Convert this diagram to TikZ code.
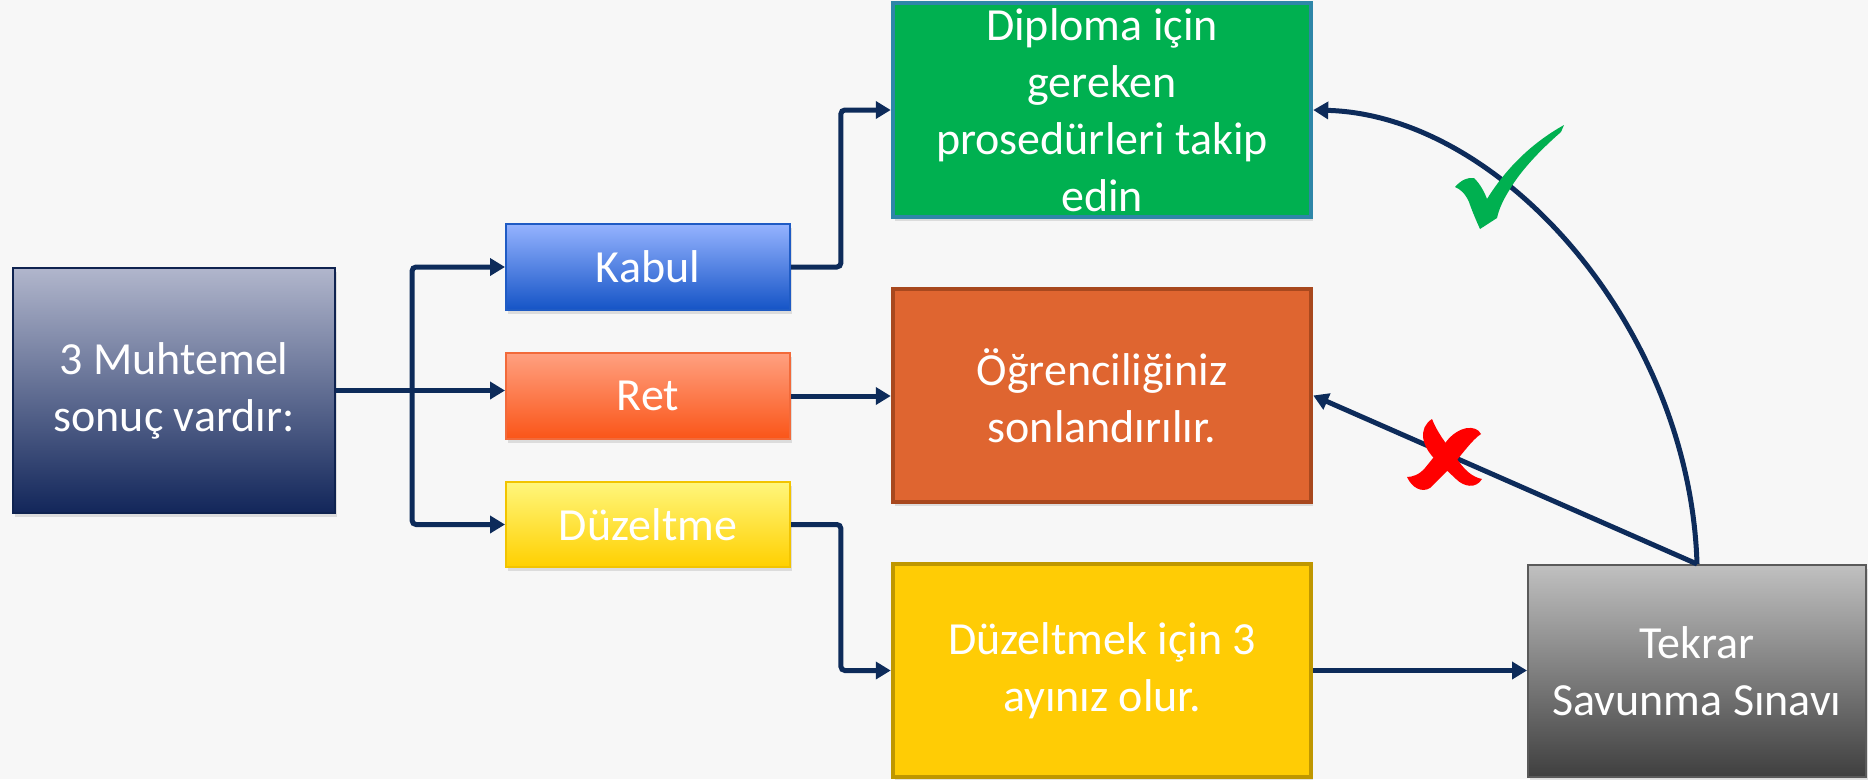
\documentclass[tikz,border=0pt]{standalone}
\usepackage{fontspec}
\setmainfont{Carlito}
\usetikzlibrary{arrows.meta,shadows,calc}
\definecolor{bgcol}{HTML}{F7F7F7}
\definecolor{navy}{HTML}{0D2B5A}
\definecolor{okgreen}{HTML}{00B050}
\definecolor{okborder}{HTML}{2E86A8}
\definecolor{orfill}{HTML}{DF6530}
\definecolor{orborder}{HTML}{A8481E}
\definecolor{yefill}{HTML}{FFCC05}
\definecolor{yeborder}{HTML}{BF9700}
\definecolor{crossred}{HTML}{FF0000}
\definecolor{mainB}{HTML}{0F2350}
\definecolor{mainT}{HTML}{B1B6CC}
\definecolor{mainM}{HTML}{838AA8}
\definecolor{mainD}{HTML}{12265A}
\definecolor{kabB}{HTML}{1F5BC4}
\definecolor{kabT}{HTML}{95B3FF}
\definecolor{kabM}{HTML}{6F90EA}
\definecolor{kabD}{HTML}{1554C6}
\definecolor{retB}{HTML}{F26A3A}
\definecolor{retT}{HTML}{FFA080}
\definecolor{retM}{HTML}{FF8A66}
\definecolor{retD}{HTML}{FA5518}
\definecolor{duzB}{HTML}{F2C400}
\definecolor{duzT}{HTML}{FFF67C}
\definecolor{duzM}{HTML}{FFE655}
\definecolor{duzD}{HTML}{FFD000}
\definecolor{tekB}{HTML}{5A5A5A}
\definecolor{tekT}{HTML}{C0C0C0}
\definecolor{tekM}{HTML}{8E8E8E}
\definecolor{tekD}{HTML}{3F3F3F}
\begin{document}
\begin{tikzpicture}[x=1pt,y=-1pt,
  box/.style={rectangle, inner sep=0pt, align=center, text=white,
    font=\fontsize{46}{57}\selectfont,
    drop shadow={opacity=0.22, shadow xshift=2pt, shadow yshift=-4pt}},
  gradbox/.style={box, draw=#1B, line width=2pt,
    top color=#1T, middle color=#1M, bottom color=#1D},
  flatbox/.style 2 args={box, draw=#1, fill=#2, line width=4.5pt},
  conn/.style={draw=navy, line width=5pt, rounded corners=4pt},
  tip/.tip={Triangle[length=15pt,width=17pt]},
  arr/.style={conn, -tip},
  twoarr/.style={conn, tip-tip}
]
\fill[bgcol] (0,0) rectangle (1868,779);
\useasboundingbox (0,0) rectangle (1868,779);

% left column
\node[gradbox=main, minimum width=322pt, minimum height=245pt] (main) at (174,390.5) {3 Muhtemel\\sonuç vardır:};

% middle column
\node[gradbox=kab, minimum width=284pt, minimum height=86pt] (kabul) at (648,267) {Kabul};
\node[gradbox=ret, minimum width=284pt, minimum height=86pt] (ret) at (648,396) {Ret};
\node[gradbox=duz, minimum width=284pt, minimum height=85pt] (duz) at (648,524.5) {Düzeltme};

% right column
\node[flatbox={okborder}{okgreen}, minimum width=418pt, minimum height=214pt] (diploma) at (1102,110)
  {Diploma için\\gereken\\prosedürleri takip\\edin};
\node[flatbox={orborder}{orfill}, minimum width=418pt, minimum height=213pt] (ogr) at (1102,395.5)
  {Öğrenciliğiniz\\sonlandırılır.};
\node[flatbox={yeborder}{yefill}, minimum width=418pt, minimum height=213pt] (duzmek) at (1102,670.5)
  {Düzeltmek için 3\\ayınız olur.};

% far right
\node[gradbox=tek, minimum width=338pt, minimum height=212pt] (tekrar) at (1697,671) {Tekrar\\Savunma Sınavı};

% connectors from the left box
\coordinate (busx) at ($(main.east)!0.45!(kabul.west)$);
\coordinate (bustop) at (busx |- kabul.west);
\coordinate (busbot) at (busx |- duz.west);
\draw[arr] (main.east) -- (main.east -| ret.west);
\draw[twoarr] (kabul.west) -- (bustop) -- (busbot) -- (duz.west);

% middle to right
\draw[arr] (kabul.east) -| ($(kabul.east)!0.5!(diploma.west)$) |- (diploma.west);
\draw[arr] (ret.east) -- (ret.east -| ogr.west);
\draw[arr] (duz.east) -| ($(duz.east)!0.5!(duzmek.west)$) |- (duzmek.west);
\draw[arr] (duzmek.east) -- (duzmek.east -| tekrar.west);

% from the re-defence box
\draw[arr, rounded corners=0pt] (tekrar.north) -- (ogr.east);
\draw[arr, rounded corners=0pt] (tekrar.north) .. controls +(-7,-235) and +(189,5) .. (diploma.east);

% check mark
\fill[okgreen] (1455,187) .. controls (1461,180) and (1468,177) .. (1474,178)
  .. controls (1480,184) and (1484,191) .. (1487,199)
  .. controls (1505,170) and (1530,144) .. (1564,125)
  -- (1561,132)
  .. controls (1538,152) and (1520,172) .. (1510,189)
  .. controls (1503,200) and (1499,209) .. (1497,218)
  -- (1480,229)
  .. controls (1475,218) and (1471,208) .. (1469,202)
  .. controls (1465,193) and (1460,189) .. (1455,187) -- cycle;

% cross
\fill[crossred] (1432,419) .. controls (1418,428) and (1420,447) .. (1440,464)
  -- (1456,479) .. controls (1464,487) and (1476,489) .. (1482,479)
  .. controls (1472,477) and (1464,470) .. (1455,456)
  .. controls (1445,442) and (1437,432) .. (1432,419) -- cycle;
\fill[crossred] (1481,434) .. controls (1476,424) and (1458,426) .. (1446,442)
  -- (1425,468) .. controls (1419,475) and (1412,477) .. (1407,477)
  .. controls (1412,488) and (1422,493) .. (1430,488)
  -- (1452,466) .. controls (1463,453) and (1472,440) .. (1481,434) -- cycle;
\end{tikzpicture}
\end{document}
